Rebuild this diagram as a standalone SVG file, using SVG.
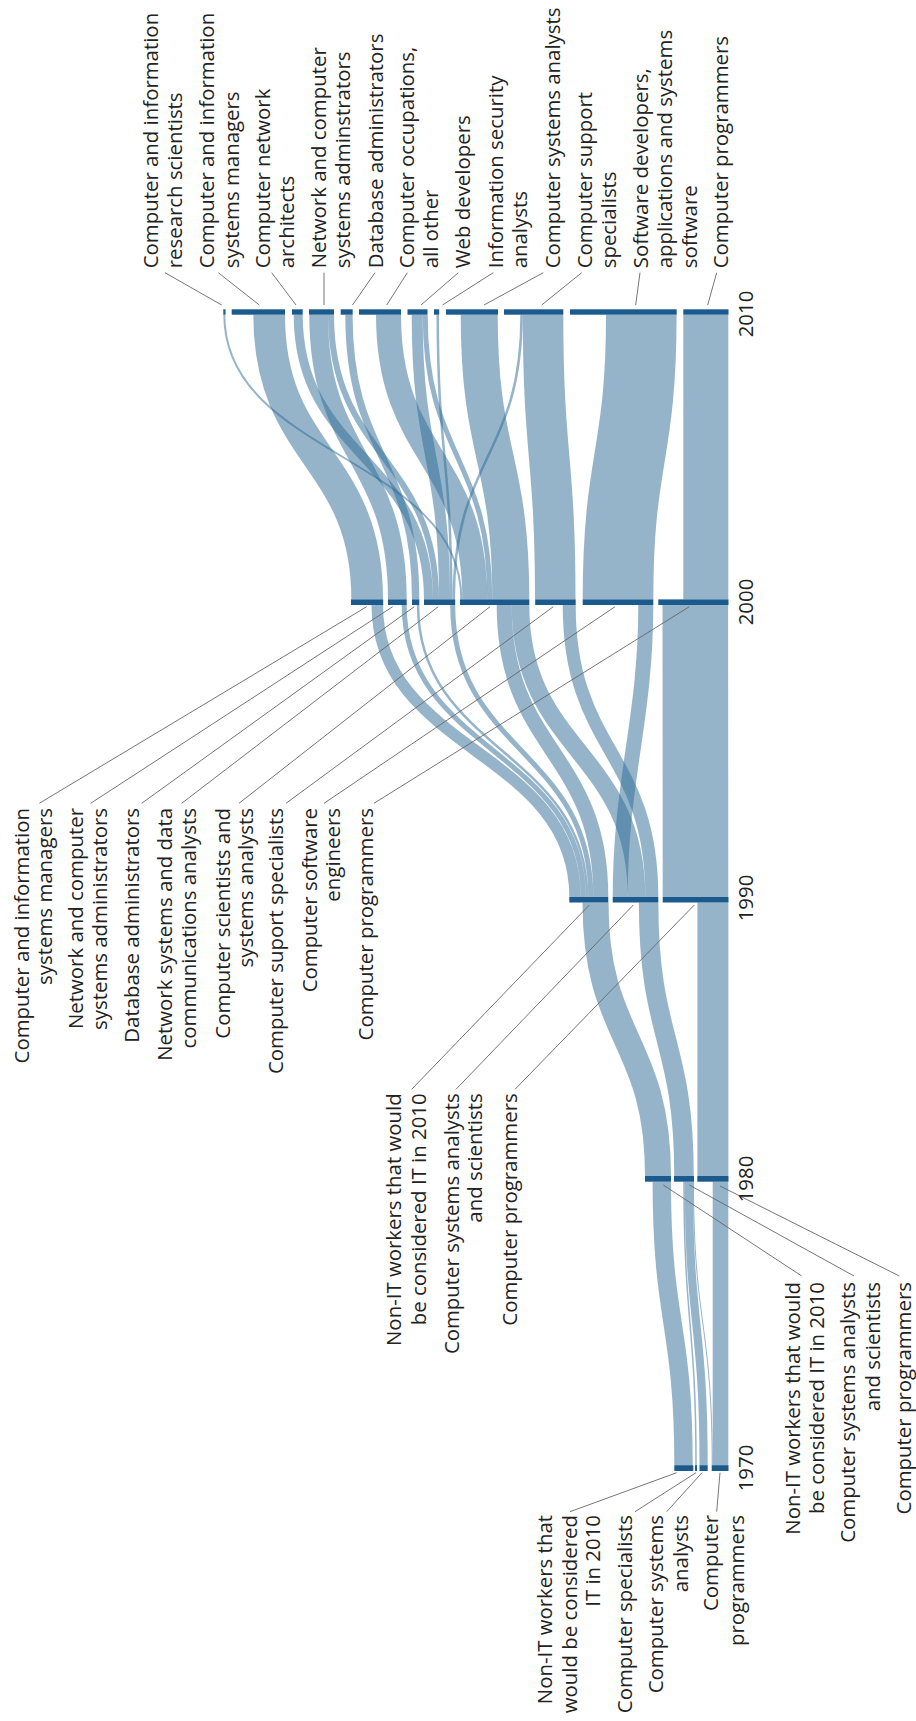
<svg xmlns="http://www.w3.org/2000/svg" width="916" height="1721" viewBox="0 0 916 1721">
<style>
.bg{fill:#ffffff}
.node{fill:#1b5a8c}
.link{fill:none;stroke:#2c6996;stroke-opacity:0.5}
.lead{stroke:#666;stroke-width:0.9;fill:none}
.lbl{font-family:"Open Sans","Noto Sans","DejaVu Sans",sans-serif;font-size:20.4px;fill:#222}
.top{text-anchor:start}
.end{text-anchor:end}
.yr{font-family:"Open Sans","Noto Sans","DejaVu Sans",sans-serif;font-size:20.4px;fill:#222;text-anchor:middle}
</style>
<rect class="bg" x="0" y="0" width="916" height="1721"/>

<g id="links">
<!-- 1970 -> 1980 -->
<path class="link" stroke-width="18.4" d="M683.5 1465.2 C683.5 1323.5 661.8 1323.5 661.8 1181.7"/>
<path class="link" stroke-width="1.5" d="M696 1465.2 C696 1323.5 684 1323.5 684 1181.7"/>
<path class="link" stroke-width="8.2" d="M703.6 1465.2 C703.6 1323.5 688.9 1323.5 688.9 1181.7"/>
<path class="link" stroke-width="1" d="M712.2 1465.2 C712.2 1323.5 693.5 1323.5 693.5 1181.7"/>
<path class="link" stroke-width="15.6" d="M720.5 1465.2 C720.5 1323.5 720.5 1323.5 720.5 1181.7"/>
<!-- 1980 -> 1990 -->
<path class="link" stroke-width="26" d="M658 1176 C658 1039.3 595.5 1039.3 595.5 902.5"/>
<path class="link" stroke-width="19.5" d="M684 1176 C684 1039.3 648.6 1039.3 648.6 902.5"/>
<path class="link" stroke-width="31" d="M712.9 1176 C712.9 1039.3 712.9 1039.3 712.9 902.5"/>
<!-- 1990 -> 2000 -->
<path class="link" stroke-width="11.5" d="M575.05 897 C575.05 751 377.25 751 377.25 605"/>
<path class="link" stroke-width="5" d="M583.3 897 C583.3 751 404.2 751 404.2 605"/>
<path class="link" stroke-width="2.5" d="M587.05 897 C587.05 751 418.05 751 418.05 605"/>
<path class="link" stroke-width="5" d="M590.8 897 C590.8 751 452.7 751 452.7 605"/>
<path class="link" stroke-width="15" d="M600.8 897 C600.8 751 504.2 751 504.2 605"/>
<path class="link" stroke-width="15" d="M620.2 897 C620.2 780 645.8 720 645.8 605"/>
<path class="link" stroke-width="17.6" d="M636.5 897 C636.5 751 520.5 751 520.5 605"/>
<path class="link" stroke-width="13" d="M651.8 897 C651.8 751 569.2 751 569.2 605"/>
<path class="link" stroke-width="65.6" d="M695.5 897 C695.5 751 695.3 751 695.3 605"/>
<!-- 2000 -> 2010 -->
<path class="link" stroke-width="31.7" d="M367.15 599.4 C367.15 457 269.15 457 269.15 314.7"/>
<path class="link" stroke-width="18.7" d="M397.35 599.4 C397.35 457 318.65 457 318.65 314.7"/>
<path class="link" stroke-width="7.3" d="M415.65 599.4 C415.65 457 348.95 457 348.95 314.7"/>
<path class="link" stroke-width="9" d="M428.5 599.4 C428.5 457 298.2 457 298.2 314.7"/>
<path class="link" stroke-width="6" d="M436 599.4 C436 457 331 457 331 314.7"/>
<path class="link" stroke-width="11" d="M444.5 599.4 C444.5 457 417.2 457 417.2 314.7"/>
<path class="link" stroke-width="2.5" d="M451.25 599.4 C451.25 457 437.75 457 437.75 314.7"/>
<path class="link" stroke-width="2.5" d="M453.75 599.4 C453.75 457 521.55 457 521.55 314.7"/>
<path class="link" stroke-width="2" d="M461.3 599.4 C461.3 457 224.3 457 224.3 314.7"/>
<path class="link" stroke-width="25" d="M474.8 599.4 C474.8 457 388.5 457 388.5 314.7"/>
<path class="link" stroke-width="5" d="M489.8 599.4 C489.8 457 425.2 457 425.2 314.7"/>
<path class="link" stroke-width="37" d="M510.8 599.4 C510.8 457 479.2 457 479.2 314.7"/>
<path class="link" stroke-width="40.5" d="M555.25 599.4 C555.25 457 543.05 457 543.05 314.7"/>
<path class="link" stroke-width="70.6" d="M618 599.4 C618 457 641.3 457 641.3 314.7"/>
<path class="link" stroke-width="45" d="M705.8 599.4 C705.8 457 705.8 457 705.8 314.7"/>
</g>

<!-- 2010 nodes -->
<g id="n2010-ressci">
<rect class="node" x="223.3" y="309.3" width="2.2" height="5.4"/>
<line class="lead" x1="165" y1="272.7" x2="221.7" y2="305"/>
<text class="lbl top" transform="translate(157.7,268.3) rotate(-90)"><tspan x="0" y="0">Computer and information</tspan><tspan x="0" y="24.6">research scientists</tspan></text>
</g>
<g id="n2010-cismgr">
<rect class="node" x="231.7" y="309.3" width="53.3" height="5.4"/>
<line class="lead" x1="218.3" y1="272.7" x2="259.3" y2="305"/>
<text class="lbl top" transform="translate(214.3,268.3) rotate(-90)"><tspan x="0" y="0">Computer and information</tspan><tspan x="0" y="24.3">systems managers</tspan></text>
</g>
<g id="n2010-netarch">
<rect class="node" x="292" y="309.3" width="10.7" height="5.4"/>
<line class="lead" x1="271.7" y1="272.7" x2="296" y2="305"/>
<text class="lbl top" transform="translate(270,268.3) rotate(-90)"><tspan x="0" y="0">Computer network</tspan><tspan x="0" y="24.3">architects</tspan></text>
</g>
<g id="n2010-netadmin">
<rect class="node" x="309" y="309.3" width="25" height="5.4"/>
<line class="lead" x1="324" y1="272.7" x2="324" y2="305"/>
<text class="lbl top" transform="translate(325.7,268.3) rotate(-90)"><tspan x="0" y="0">Network and computer</tspan><tspan x="0" y="24.3">systems adminstrators</tspan></text>
</g>
<g id="n2010-dba">
<rect class="node" x="340.7" y="309.3" width="12" height="5.4"/>
<line class="lead" x1="375" y1="272.7" x2="352.5" y2="305"/>
<text class="lbl top" transform="translate(382.5,268.3) rotate(-90)"><tspan x="0" y="0">Database administrators</tspan></text>
</g>
<g id="n2010-compocc">
<rect class="node" x="359" y="309.3" width="42" height="5.4"/>
<line class="lead" x1="407.3" y1="272.7" x2="386.7" y2="305"/>
<text class="lbl top" transform="translate(414,268.3) rotate(-90)"><tspan x="0" y="0">Computer occupations,</tspan><tspan x="0" y="24.3">all other</tspan></text>
</g>
<g id="n2010-webdev">
<rect class="node" x="407.5" y="309.3" width="20" height="5.4"/>
<line class="lead" x1="458.3" y1="272.7" x2="421" y2="305"/>
<text class="lbl top" transform="translate(470,268.3) rotate(-90)"><tspan x="0" y="0">Web developers</tspan></text>
</g>
<g id="n2010-infosec">
<rect class="node" x="434" y="309.3" width="5.2" height="5.4"/>
<line class="lead" x1="493.3" y1="272.7" x2="442.5" y2="305"/>
<text class="lbl top" transform="translate(503.3,268.3) rotate(-90)"><tspan x="0" y="0">Information security</tspan><tspan x="0" y="24">analysts</tspan></text>
</g>
<g id="n2010-sysan">
<rect class="node" x="446" y="309.3" width="52" height="5.4"/>
<line class="lead" x1="543.3" y1="272.7" x2="484" y2="305"/>
<text class="lbl top" transform="translate(560,268.3) rotate(-90)"><tspan x="0" y="0">Computer systems analysts</tspan></text>
</g>
<g id="n2010-support">
<rect class="node" x="504" y="309.3" width="59.3" height="5.4"/>
<line class="lead" x1="581.7" y1="272.7" x2="541.7" y2="305"/>
<text class="lbl top" transform="translate(591.7,268.3) rotate(-90)"><tspan x="0" y="0">Computer support</tspan><tspan x="0" y="24.6">specialists</tspan></text>
</g>
<g id="n2010-swdev">
<rect class="node" x="570" y="309.3" width="106.7" height="5.4"/>
<line class="lead" x1="640" y1="272.7" x2="635.7" y2="305"/>
<text class="lbl top" transform="translate(648.3,268.3) rotate(-90)"><tspan x="0" y="0">Software developers,</tspan><tspan x="0" y="24.2">applications and systems</tspan><tspan x="0" y="48.4">software</tspan></text>
</g>
<g id="n2010-prog">
<rect class="node" x="683.3" y="309.3" width="45.2" height="5.4"/>
<line class="lead" x1="716.7" y1="272.7" x2="707.7" y2="305"/>
<text class="lbl top" transform="translate(728.3,268.3) rotate(-90)"><tspan x="0" y="0">Computer programmers</tspan></text>
</g>

<!-- 2000 nodes -->
<g id="n2000-cismgr">
<rect class="node" x="351" y="599.4" width="32.2" height="5.6"/>
<line class="lead" x1="366.7" y1="606.7" x2="39.3" y2="803.3"/>
<text class="lbl end" transform="translate(28.7,808) rotate(-90)"><tspan x="0" y="0">Computer and information</tspan><tspan x="0" y="23">systems managers</tspan></text>
</g>
<g id="n2000-netadmin">
<rect class="node" x="388" y="599.4" width="18.7" height="5.6"/>
<line class="lead" x1="392.7" y1="606.7" x2="90.7" y2="803.3"/>
<text class="lbl end" transform="translate(83.3,808) rotate(-90)"><tspan x="0" y="0">Network and computer</tspan><tspan x="0" y="23.7">systems administrators</tspan></text>
</g>
<g id="n2000-dba">
<rect class="node" x="412" y="599.4" width="7.3" height="5.6"/>
<line class="lead" x1="414.3" y1="606.7" x2="141.7" y2="803.3"/>
<text class="lbl end" transform="translate(139,808) rotate(-90)"><tspan x="0" y="0">Database administrators</tspan></text>
</g>
<g id="n2000-netsys">
<rect class="node" x="424" y="599.4" width="31.2" height="5.6"/>
<line class="lead" x1="438.3" y1="606.7" x2="181.7" y2="803.3"/>
<text class="lbl end" transform="translate(171.7,808) rotate(-90)"><tspan x="0" y="0">Network systems and data</tspan><tspan x="0" y="24.3">communications analysts</tspan></text>
</g>
<g id="n2000-compsci">
<rect class="node" x="460" y="599.4" width="69.3" height="5.6"/>
<line class="lead" x1="490" y1="606.7" x2="239" y2="803.3"/>
<text class="lbl end" transform="translate(230,808) rotate(-90)"><tspan x="0" y="0">Computer scientists and</tspan><tspan x="0" y="23">systems analysts</tspan></text>
</g>
<g id="n2000-support">
<rect class="node" x="535.2" y="599.4" width="40.5" height="5.6"/>
<line class="lead" x1="553.3" y1="606.7" x2="286" y2="803.3"/>
<text class="lbl end" transform="translate(283,808) rotate(-90)"><tspan x="0" y="0">Computer suport specialists</tspan></text>
</g>
<g id="n2000-sweng">
<rect class="node" x="582.7" y="599.4" width="70.6" height="5.6"/>
<line class="lead" x1="615" y1="606.7" x2="324" y2="803.3"/>
<text class="lbl end" transform="translate(316.7,808) rotate(-90)"><tspan x="0" y="0">Computer software</tspan><tspan x="0" y="23.3">engineers</tspan></text>
</g>
<g id="n2000-prog">
<rect class="node" x="658.3" y="599.4" width="70.2" height="5.6"/>
<line class="lead" x1="689.3" y1="606.7" x2="374" y2="803.3"/>
<text class="lbl end" transform="translate(373,808) rotate(-90)"><tspan x="0" y="0">Computer programmers</tspan></text>
</g>

<!-- 1990 nodes -->
<g id="n1990-nonit">
<rect class="node" x="569.3" y="897" width="39" height="5.5"/>
<line class="lead" x1="589.3" y1="905" x2="411.7" y2="1089.3"/>
<text class="lbl end" transform="translate(401,1093.3) rotate(-90)"><tspan x="0" y="0">Non-IT workers that would</tspan><tspan x="0" y="24.5">be considered IT in 2010</tspan></text>
</g>
<g id="n1990-sysan">
<rect class="node" x="612.7" y="897" width="45.6" height="5.5"/>
<line class="lead" x1="633.3" y1="905" x2="456" y2="1089.3"/>
<text class="lbl end" transform="translate(458.7,1093.3) rotate(-90)"><tspan x="0" y="0">Computer systems analysts</tspan><tspan x="0" y="23">and scientists</tspan></text>
</g>
<g id="n1990-prog">
<rect class="node" x="662.7" y="897" width="65.8" height="5.5"/>
<line class="lead" x1="694.3" y1="905" x2="515" y2="1089.3"/>
<text class="lbl end" transform="translate(516.7,1093.3) rotate(-90)"><tspan x="0" y="0">Computer programmers</tspan></text>
</g>

<!-- 1980 nodes -->
<g id="n1980-nonit">
<rect class="node" x="645" y="1176" width="26" height="5.7"/>
<line class="lead" x1="663.3" y1="1185" x2="801.7" y2="1276"/>
<text class="lbl end" transform="translate(800,1282) rotate(-90)"><tspan x="0" y="0">Non-IT workers that would</tspan><tspan x="0" y="24">be considered IT in 2010</tspan></text>
</g>
<g id="n1980-sysan">
<rect class="node" x="674" y="1176" width="20" height="5.7"/>
<line class="lead" x1="689.3" y1="1185" x2="854" y2="1276"/>
<text class="lbl end" transform="translate(855,1282) rotate(-90)"><tspan x="0" y="0">Computer systems analysts</tspan><tspan x="0" y="25">and scientists</tspan></text>
</g>
<g id="n1980-prog">
<rect class="node" x="697.3" y="1176" width="31.2" height="5.7"/>
<line class="lead" x1="720" y1="1186" x2="899.3" y2="1276"/>
<text class="lbl end" transform="translate(911,1282) rotate(-90)"><tspan x="0" y="0">Computer programmers</tspan></text>
</g>

<!-- 1970 nodes -->
<g id="n1970-nonit">
<rect class="node" x="674.3" y="1465.2" width="19" height="5.8"/>
<line class="lead" x1="676.7" y1="1472.7" x2="570" y2="1511.7"/>
<text class="lbl end" transform="translate(551.7,1515) rotate(-90)"><tspan x="0" y="0">Non-IT workers that</tspan><tspan x="0" y="25">would be considered</tspan><tspan x="0" y="48.3">IT in 2010</tspan></text>
</g>
<g id="n1970-compspec">
<rect class="node" x="695" y="1465.2" width="2" height="5.8"/>
<line class="lead" x1="696" y1="1472.7" x2="635" y2="1511.7"/>
<text class="lbl end" transform="translate(631.7,1515) rotate(-90)"><tspan x="0" y="0">Computer specialists</tspan></text>
</g>
<g id="n1970-sysan">
<rect class="node" x="699.5" y="1465.2" width="8.2" height="5.8"/>
<line class="lead" x1="702" y1="1472.7" x2="666.7" y2="1511.7"/>
<text class="lbl end" transform="translate(663.3,1515) rotate(-90)"><tspan x="0" y="0">Computer systems</tspan><tspan x="0" y="25">analysts</tspan></text>
</g>
<g id="n1970-prog">
<rect class="node" x="711.7" y="1465.2" width="16.8" height="5.8"/>
<line class="lead" x1="720" y1="1472.7" x2="716.7" y2="1511.7"/>
<text class="lbl end" transform="translate(718.3,1515) rotate(-90)"><tspan x="0" y="0">Computer</tspan><tspan x="0" y="26">programmers</tspan></text>
</g>

<!-- year axis labels -->
<g id="years">
<text class="yr" transform="translate(753,314) rotate(-90)">2010</text>
<text class="yr" transform="translate(753,602) rotate(-90)">2000</text>
<text class="yr" transform="translate(753,898) rotate(-90)">1990</text>
<text class="yr" transform="translate(753,1179) rotate(-90)">1980</text>
<text class="yr" transform="translate(753,1468) rotate(-90)">1970</text>
</g>
</svg>
